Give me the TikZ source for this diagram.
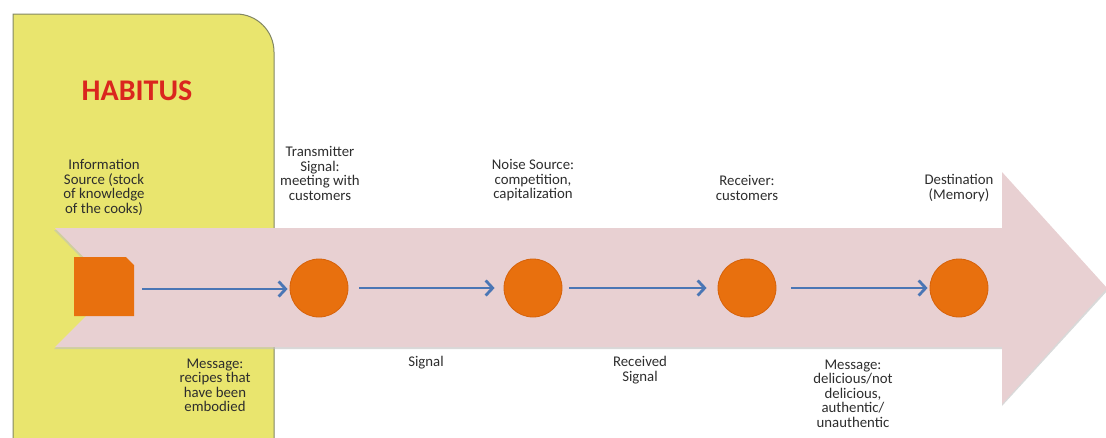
\documentclass[tikz,border=0pt]{standalone}
\usepackage{fontspec}
\setmainfont{Carlito}
\usetikzlibrary{arrows.meta}
\definecolor{panelyellow}{RGB}{233,229,110}
\definecolor{panelborder}{RGB}{130,135,100}
\definecolor{pinkarrow}{RGB}{232,208,210}
\definecolor{orangec}{RGB}{232,112,14}
\definecolor{orangeedge}{RGB}{214,98,10}
\definecolor{flowblue}{RGB}{74,118,181}
\definecolor{txt}{RGB}{45,45,45}
\definecolor{habred}{RGB}{218,38,30}
\tikzset{
  lbl/.style={align=center, inner sep=0pt, text=txt, font=\fontsize{14.8}{14.5}\selectfont},
  stage/.style={circle, fill=orangec, draw=orangeedge, line width=0.8pt, minimum size=58pt, inner sep=0pt},
  flow/.style={draw=flowblue, line width=2.8pt, -{Straight Barb[length=7pt,width=15pt,line width=2.8pt]}},
}
\begin{document}
\begin{tikzpicture}[x=1pt,y=-1pt]
\useasboundingbox (0,0) rectangle (1106,437);
\begin{scope}
\clip (0,0) rectangle (1106,437);
% yellow panel
\fill[panelyellow] (13,440) -- (13,14) -- (236,14) .. controls (257,14) and (274,31) .. (274,52) -- (274,440) -- cycle;
\draw[panelborder, line width=1pt] (13,440) -- (13,14) -- (236,14) .. controls (257,14) and (274,31) .. (274,52) -- (274,440);
% big arrow shadow
\fill[black!25, opacity=0.6] (54,230) -- (1002,230) -- (1002,174) -- (1108,290) -- (1002,406) -- (1002,349) -- (54,349) -- (113,290) -- cycle;
% big arrow
\fill[pinkarrow] (55,228) -- (1002,228) -- (1002,172) -- (1107,288) -- (1002,404) -- (1002,347) -- (55,347) -- (114,288) -- cycle;
\end{scope}
% source square with snipped corner
\fill[orangec] (74,257) -- (126,257) -- (134,265) -- (134,316) -- (74,316) -- cycle;
% stages
\node[stage] (c1) at (319,288) {};
\node[stage] (c2) at (533,288) {};
\node[stage] (c3) at (747,288) {};
\node[stage] (c4) at (959,288) {};
% flows
\draw[flow, shorten >=2pt] (142,289) coordinate (a0) -- (c1.west |- a0) ;
\draw[flow, shorten <=11pt, shorten >=9pt] (c1.east) -- (c2.west);
\draw[flow, shorten <=7pt, shorten >=11pt] (c2.east) -- (c3.west);
\draw[flow, shorten <=15pt, shorten >=2pt] (c3.east) -- (c4.west);
% title
\node[inner sep=0pt, text=habred, font=\bfseries\fontsize{30}{34}\selectfont] (hab) at (137,91) {HABITUS};
% top labels
\node[lbl] (tinfo) at (104,187.5) {Information\\Source (stock\\of knowledge\\of the cooks)};
\node[lbl] (ttrans) at (320,173.5) {Transmitter\\Signal:\\meeting with\\customers};
\node[lbl] (tnoise) at (533,180.5) {Noise Source:\\competition,\\capitalization};
\node[lbl] (trecv) at (747,188) {Receiver:\\customers};
\node[lbl] (tdest) at (959,188) {Destination\\(Memory)};
% bottom labels
\node[lbl] (bmsg1) at (215,385.5) {Message:\\recipes that\\have been\\embodied};
\node[lbl] (bsig) at (426,363) {Signal};
\node[lbl] (brecv) at (640,370) {Received\\Signal};
\node[lbl] (bmsg2) at (853,393.5) {Message:\\delicious/not\\delicious,\\authentic/\\unauthentic};
\end{tikzpicture}
\end{document}
